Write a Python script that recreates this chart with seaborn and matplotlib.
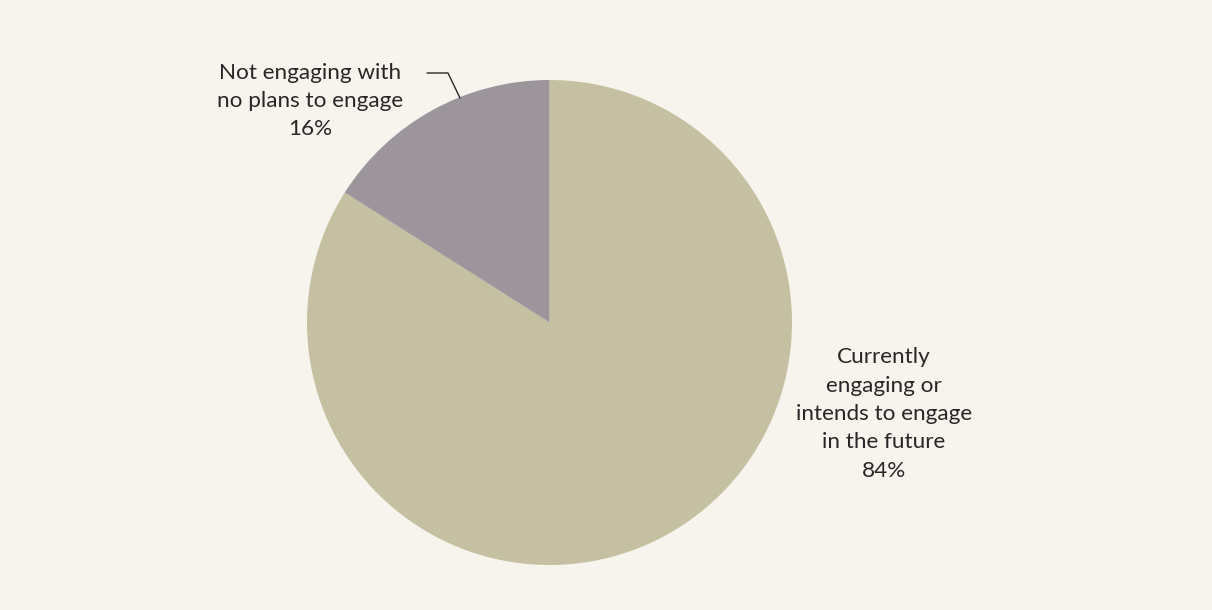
import matplotlib
matplotlib.use("Agg")
import matplotlib.pyplot as plt
import seaborn as sns

# Data
categories = ["Currently\nengaging or\nintends to engage\nin the future",
              "Not engaging with\nno plans to engage"]
shares = [84, 16]
slice_colors = ["#C5C0A1", "#9D959C"]

sns.set_theme(style="white")
plt.rcParams['font.family'] = ['Lato', 'DejaVu Sans']

bg = "#F7F4EE"
fig = plt.figure(figsize=(12.12, 6.10), dpi=100, facecolor=bg)
ax = fig.add_axes([0, 0, 1, 1])
ax.set_facecolor(bg)
ax.axis('off')

# pie placed in pixel space (y up)
ax.pie(shares, colors=slice_colors, startangle=90, counterclock=False,
       center=(549.5, 610 - 322.5), radius=242.5,
       wedgeprops=dict(linewidth=0))
ax.set_xlim(0, 1212)
ax.set_ylim(0, 610)
ax.set_aspect('auto')

txt_color = "#2A2627"
ax.text(884, 610 - 414, f"{categories[0]}\n{shares[0]}%", ha='center', va='center',
        fontsize=16.2, color=txt_color, linespacing=1.52)
ax.text(310, 610 - 101, f"{categories[1]}\n{shares[1]}%", ha='center', va='center',
        fontsize=16.2, color=txt_color, linespacing=1.52)

# leader line for the small slice
ax.plot([427, 448, 460], [610 - 73, 610 - 73, 610 - 98], color=txt_color, linewidth=1)

fig.savefig("out.png", dpi=100, facecolor=bg)
